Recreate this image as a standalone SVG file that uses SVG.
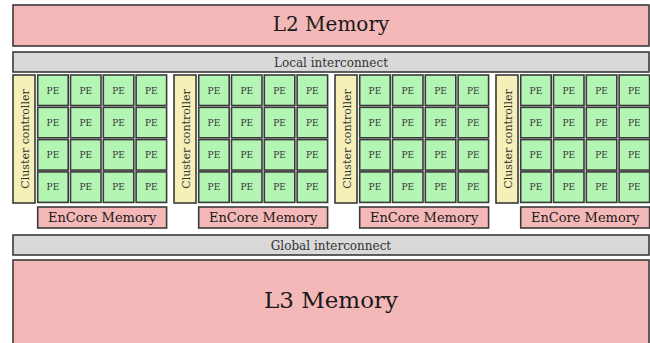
<svg xmlns="http://www.w3.org/2000/svg" width="650" height="343" viewBox="0 0 650 343">
<style>
text{font-family:"DejaVu Serif","Liberation Serif",serif;fill:#1a1a1a;text-anchor:middle}
.mem{fill:#f4b8b8;stroke:#3a3a3a;stroke-width:1.6}
.ic{fill:#d9d9d9;stroke:#3a3a3a;stroke-width:1.6}
.pe{fill:#b3f5b3;stroke:#3a3a3a;stroke-width:1.6}
.cc{fill:#f5f0b8;stroke:#3a3a3a;stroke-width:1.6}
.pt{font-size:9px;fill:#333}
.ct{font-size:11px;fill:#333}
.et{font-size:13px}
.it{font-size:12px;fill:#333}
</style>
<defs>
<g id="pe"><rect class="pe" x="0" y="0" width="30.5" height="30.5"/><text class="pt" x="15.25" y="18.5">PE</text></g>
<g id="cluster">
<rect class="cc" x="0" y="75" width="22" height="128"/>
<text class="ct" transform="translate(16,139) rotate(-90)">Cluster controller</text>
<use href="#pe" x="24.7" y="75"/><use href="#pe" x="57.5" y="75"/><use href="#pe" x="90.3" y="75"/><use href="#pe" x="123.1" y="75"/>
<use href="#pe" x="24.7" y="107.3"/><use href="#pe" x="57.5" y="107.3"/><use href="#pe" x="90.3" y="107.3"/><use href="#pe" x="123.1" y="107.3"/>
<use href="#pe" x="24.7" y="139.6"/><use href="#pe" x="57.5" y="139.6"/><use href="#pe" x="90.3" y="139.6"/><use href="#pe" x="123.1" y="139.6"/>
<use href="#pe" x="24.7" y="171.9"/><use href="#pe" x="57.5" y="171.9"/><use href="#pe" x="90.3" y="171.9"/><use href="#pe" x="123.1" y="171.9"/>
<rect class="mem" x="24.7" y="207" width="128.9" height="21"/>
<text class="et" x="89.15" y="222">EnCore Memory</text>
</g>
</defs>
<g id="l2"><rect class="mem" x="13" y="5" width="636" height="41"/><text x="331" y="31" font-size="20">L2 Memory</text></g>
<g id="local-interconnect"><rect class="ic" x="13" y="52" width="636" height="20"/><text class="it" x="331" y="66.5">Local interconnect</text></g>
<g id="cluster1"><use href="#cluster" x="13"/></g>
<g id="cluster2"><use href="#cluster" x="174"/></g>
<g id="cluster3"><use href="#cluster" x="335"/></g>
<g id="cluster4"><use href="#cluster" x="496"/></g>
<g id="global-interconnect"><rect class="ic" x="13" y="235" width="636" height="20"/><text class="it" x="331" y="249.5">Global interconnect</text></g>
<g id="l3"><rect class="mem" x="13" y="260" width="636" height="100"/><text x="331" y="308" font-size="23">L3 Memory</text></g>
<g id="connectors"/>
</svg>
